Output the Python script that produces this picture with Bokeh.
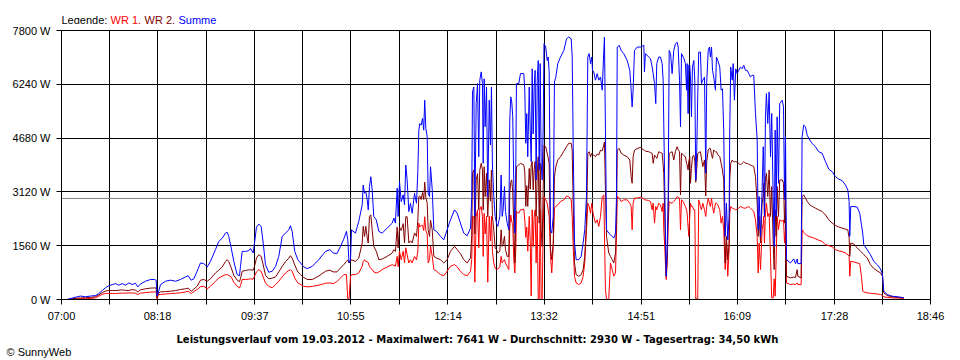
from bokeh.plotting import figure
from bokeh.layouts import column
from bokeh.models import Range1d, FixedTicker, CustomJSTickFormatter, Span
from bokeh.core.properties import value
from bokeh.embed import file_html
from bokeh.resources import INLINE

# time of each sample, minutes since midnight
time_min = [
    424.6, 426.7, 432.8, 435.4, 439.5, 443.6, 447.6, 450.3, 453.1, 455.7,
    458.4, 461.2, 463.9, 466.6, 469.3, 472.0, 474.7, 477.4, 480.1, 482.0,
    484.2, 488.2, 492.3, 495.6, 496.9, 497.6, 498.6, 500.4, 504.5, 508.6,
    512.6, 516.7, 520.7, 522.9, 525.4, 527.5, 530.2, 532.9, 535.6, 538.4,
    541.0, 545.1, 547.8, 550.6, 553.2, 554.6, 555.9, 557.9, 560.0, 562.7,
    564.6, 565.4, 566.8, 569.5, 572.2, 573.5, 575.7, 576.8, 578.4, 580.3,
    582.2, 583.9, 585.7, 588.4, 591.2, 593.9, 596.5, 599.3, 602.0, 604.7,
    606.0, 607.4, 609.5, 612.0, 614.2, 616.8, 619.6, 623.7, 629.0, 634.5,
    638.0, 640.7, 643.7, 646.7, 649.3, 651.5, 652.6, 653.6, 654.8, 655.6,
    658.8, 661.5, 664.3, 665.1, 666.2, 667.2, 668.4, 669.2, 670.2, 671.3,
    672.4, 673.7, 675.7, 677.8, 680.5, 684.6, 688.7, 690.0, 691.3, 692.7,
    693.5, 694.6, 696.0, 697.6, 698.7, 699.7, 700.8, 702.2, 703.5, 704.9,
    706.8, 708.4, 709.5, 710.3, 711.1, 712.2, 713.3, 714.3, 715.1, 716.0,
    717.1, 717.9, 719.0, 719.8, 721.2, 722.5, 724.7, 727.9, 730.6, 733.3,
    736.0, 739.3, 741.5, 744.1, 746.8, 749.6, 752.3, 753.3, 753.9, 755.0,
    755.8, 756.9, 758.0, 759.0, 759.8, 761.0, 762.0, 762.6, 763.4, 764.2,
    765.3, 766.3, 767.5, 768.5, 769.3, 770.1, 771.2, 772.3, 773.4, 774.4,
    776.1, 777.2, 778.0, 778.8, 779.9, 780.7, 782.1, 783.4, 784.2, 785.0,
    785.8, 786.6, 787.4, 788.3, 789.1, 789.6, 791.5, 792.9, 795.6, 796.4,
    797.2, 798.0, 798.8, 800.0, 800.8, 801.6, 802.4, 803.2, 804.0, 804.8,
    805.6, 806.5, 807.3, 808.1, 808.9, 809.7, 810.5, 811.3, 812.0, 813.4,
    814.6, 815.4, 816.2, 817.3, 818.3, 819.5, 820.5, 821.6, 823.2, 825.4,
    828.1, 830.3, 832.1, 834.1, 834.9, 835.7, 836.8, 838.1, 840.3, 842.2,
    843.8, 845.1, 846.5, 847.6, 848.7, 849.8, 850.8, 851.4, 852.4, 853.8,
    855.2, 856.5, 857.9, 859.3, 860.6, 861.1, 861.9, 862.8, 864.6, 866.0,
    867.4, 868.7, 870.1, 870.9, 871.5, 873.1, 874.7, 876.8, 879.6, 881.7,
    882.8, 883.6, 884.4, 885.5, 887.7, 890.4, 893.1, 893.6, 894.4, 897.1,
    898.5, 899.9, 900.7, 901.8, 902.8, 903.6, 905.2, 906.6, 908.0, 908.8,
    909.3, 910.1, 910.7, 911.3, 912.1, 912.9, 913.7, 914.8, 916.1, 917.4,
    918.8, 920.2, 921.0, 922.1, 922.9, 923.7, 925.1, 925.6, 926.9, 927.8,
    928.3, 929.1, 929.6, 930.4, 931.0, 931.8, 932.6, 933.7, 934.5, 935.3,
    936.1, 936.9, 937.7, 939.1, 939.9, 941.0, 942.4, 943.4, 944.2, 945.4,
    946.4, 947.2, 948.1, 948.9, 949.9, 951.3, 952.1, 953.2, 954.8, 955.9,
    957.0, 958.0, 959.2, 960.2, 961.3, 962.4, 962.9, 963.7, 964.9, 965.7,
    966.7, 967.8, 968.9, 970.2, 971.6, 973.0, 974.3, 975.7, 977.1, 978.4,
    979.7, 981.1, 982.4, 983.8, 985.2, 986.0, 986.8, 987.9, 989.2, 990.1,
    990.5, 991.1, 991.9, 992.7, 993.8, 994.9, 996.0, 997.0, 998.2, 999.0,
    999.8, 1000.6, 1001.4, 1002.5, 1003.5, 1005.5, 1006.6, 1007.4, 1008.2, 1009.0,
    1012.2, 1014.9, 1016.3, 1017.7, 1018.2, 1020.9, 1021.7, 1023.0, 1024.4, 1025.8,
    1027.9, 1029.9, 1032.5, 1035.2, 1038.0, 1040.7, 1043.4, 1046.1, 1048.8, 1051.5,
    1054.2, 1056.9, 1058.8, 1059.9, 1060.4, 1061.2, 1063.7, 1066.4, 1068.5, 1069.9,
    1071.0, 1071.8, 1074.6, 1077.2, 1079.9, 1082.7, 1085.4, 1087.0, 1088.0, 1090.8,
    1094.8, 1100.2, 1104.3,
]

# Summe (W)
summe = [
    0, 20, 80, 100, 80, 100, 115, 170, 260, 340,
    400, 430, 460, 415, 460, 415, 480, 435, 470, 365,
    450, 530, 580, 580, 560, 100, 190, 430, 530, 560,
    530, 580, 655, 690, 560, 600, 820, 1060, 1040, 945,
    1105, 1445, 1685, 1780, 1925, 1945, 1830, 1490, 1105, 720,
    690, 960, 1395, 1395, 1415, 1480, 1350, 1635, 2100, 2185,
    2120, 1635, 1010, 790, 820, 960, 1250, 1830, 1925, 2020,
    2140, 1975, 1395, 1155, 1060, 945, 895, 960, 1155, 1395,
    1445, 1350, 1330, 1540, 1750, 1975, 1730, 1060, 1150, 2020,
    1925, 2265, 2745, 3320, 3080, 3130, 2890, 2600, 3275, 3560,
    3180, 2410, 2310, 1975, 1925, 2070, 2215, 2360, 2215, 3225,
    2410, 3420, 2840, 3035, 2745, 3900, 3470, 2550, 2790, 2500,
    3080, 2790, 3710, 4910, 5100, 5055, 5250, 4910, 5780, 4960,
    4720, 3080, 2985, 3850, 3180, 2020, 1975, 1830, 1730, 2020,
    2310, 2600, 2500, 2215, 1925, 1850, 2070, 2985, 6020, 6160,
    2410, 5680, 6260, 4140, 6355, 6600, 6260, 3950, 6400, 5010,
    6160, 2985, 5780, 4480, 6160, 3900, 2985, 2410, 2215, 2120,
    2410, 3610, 2410, 2600, 3275, 2550, 2215, 2020, 5200, 5875,
    5730, 5300, 3470, 1925, 3950, 6260, 6260, 6550, 6550, 6070,
    4530, 5390, 4140, 6160, 4910, 4000, 6690, 4800, 6160, 6645,
    3470, 6360, 6930, 3760, 6840, 3950, 3470, 4910, 7415, 7320,
    6930, 7030, 6600, 2020, 1925, 2410, 6310, 6450, 6840, 7030,
    7220, 7560, 7610, 7560, 7030, 4530, 1640, 1155, 1155, 1250,
    1640, 2020, 2985, 7030, 7130, 6840, 7030, 6645, 6600, 6360,
    6550, 6360, 6450, 6070, 7220, 7610, 4910, 2020, 1925, 1880,
    1830, 1780, 1925, 2985, 7320, 7370, 7220, 7130, 6930, 6645,
    6070, 5585, 6070, 7220, 7320, 7320, 7370, 6600, 7130, 7030,
    6980, 6740, 6550, 6260, 5680, 6840, 7030, 7030, 6840, 6360,
    5100, 3270, 1830, 674, 1540, 2985, 7220, 7130, 6550, 7220,
    7415, 7460, 7320, 6360, 5010, 7130, 7030, 7000, 6840, 6070,
    6840, 5390, 6800, 6800, 6450, 5300, 6740, 6930, 6360, 3470,
    4330, 5875, 7175, 7175, 6260, 6360, 6450, 3660, 6310, 7220,
    7320, 7030, 7320, 6645, 6450, 6070, 7030, 6930, 6740, 6070,
    6110, 4910, 1830, 2790, 1730, 2410, 4910, 6740, 6360, 6840,
    5780, 6690, 6550, 6645, 6740, 6693, 6789, 6645, 6645, 6550,
    6452, 6500, 6500, 5393, 4622, 2022, 2985, 1830, 3178, 4430,
    4000, 2408, 5297, 5970, 5104, 6019, 4141, 5393, 2985, 1541,
    4911, 2408, 5297, 3370, 5682, 5778, 5585, 2900, 4719, 1156,
    1059, 1175, 1040, 1175, 1040, 1040, 4719, 5056, 5008, 4767,
    4622, 4526, 4430, 4285, 4237, 3996, 3775, 3708, 3563, 3486,
    3448, 3322, 3178, 2841, 1830, 2696, 2696, 2680, 2504, 2167,
    1900, 1589, 1445, 1300, 1107, 1011, 886, 722, 241, 144,
    96, 77, 48,
]

# WR 2 (W)
wr2 = [
    0, 10, 40, 45, 50, 60, 80, 135, 200, 245,
    260, 260, 260, 270, 280, 265, 260, 290, 270, 220,
    280, 310, 330, 335, 335, 50, 170, 220, 230, 240,
    260, 290, 310, 330, 240, 300, 385, 560, 580, 530,
    600, 770, 850, 945, 1100, 1155, 1100, 915, 700, 560,
    520, 600, 820, 840, 860, 860, 850, 960, 1200, 1300,
    1250, 1000, 700, 600, 620, 655, 800, 960, 1100, 1200,
    1270, 1200, 1000, 800, 720, 640, 580, 578, 680, 820,
    850, 800, 800, 915, 1010, 1105, 1150, 1060, 1100, 1150,
    1105, 1200, 1640, 2120, 1830, 2120, 1780, 1640, 2410, 2455,
    2020, 1540, 1400, 1155, 1175, 1250, 1350, 1445, 1395, 2100,
    1500, 2100, 2000, 2200, 1640, 2400, 2400, 1640, 1700, 1640,
    1930, 1830, 2300, 2985, 3000, 2900, 3100, 2900, 3400, 2950,
    2800, 2020, 1830, 2300, 2020, 1250, 1200, 1155, 1060, 1155,
    1395, 1540, 1445, 1330, 1155, 1060, 1205, 1850, 3660, 3755,
    1900, 3470, 3650, 2600, 3750, 3950, 3755, 2600, 3850, 2985,
    3660, 2400, 3470, 2850, 3755, 2410, 2020, 1500, 1445, 1350,
    1400, 2020, 1540, 1600, 1830, 1445, 1250, 1250, 3100, 3400,
    3470, 3100, 2200, 1060, 2410, 3850, 3900, 3950, 3900, 3700,
    2700, 3300, 2700, 3800, 3200, 3900, 4000, 3180, 3756, 4000,
    2410, 3660, 4140, 2215, 3950, 2020, 1540, 3180, 4480, 4430,
    4240, 4100, 3950, 1445, 1155, 1640, 3560, 3850, 4045, 4140,
    4300, 4430, 4530, 4530, 4330, 2790, 1060, 720, 675, 720,
    870, 1250, 2215, 4240, 4285, 4140, 4240, 4200, 4190, 4140,
    4220, 4190, 4330, 4310, 4480, 4570, 3180, 1830, 1350, 1250,
    1155, 1060, 1350, 2400, 4330, 4380, 4240, 4190, 4140, 4045,
    3560, 3370, 4140, 4330, 4380, 4410, 4334, 4330, 4300, 4285,
    4260, 4237, 3948, 4189, 4140, 4093, 4285, 4260, 4237, 3900,
    3659, 2408, 1400, 674, 1252, 2500, 4237, 4260, 4285, 4045,
    4300, 4430, 4350, 4285, 3033, 4237, 4200, 4170, 4141, 3950,
    3900, 3756, 4000, 4141, 3370, 3800, 4141, 4189, 4000, 3400,
    3800, 4237, 4260, 4285, 4100, 3852, 4045, 3000, 4000, 4334,
    4382, 4382, 4200, 4093, 4334, 4285, 4285, 4200, 4141, 3948,
    3750, 3467, 1059, 1830, 1156, 1637, 3467, 3948, 4045, 4000,
    3996, 3996, 3990, 3950, 3900, 3950, 3996, 3950, 3948, 3920,
    3900, 3880, 3852, 3563, 2793, 1830, 2408, 1637, 2793, 3000,
    3370, 2408, 3500, 3659, 2985, 3756, 2408, 3274, 1637, 867,
    2600, 1830, 3274, 2408, 3467, 3467, 3370, 2215, 2985, 674,
    626, 650, 640, 867, 674, 626, 2985, 3034, 2937, 2850,
    2745, 2700, 2648, 2600, 2550, 2450, 2311, 2215, 2150, 2100,
    2070, 2040, 2022, 1782, 1252, 1637, 1610, 1500, 1420, 1380,
    1330, 1300, 1204, 1011, 900, 830, 770, 674, 193, 116,
    77, 60, 48,
]

# WR 1 (W)
wr1 = [
    0, 10, 20, 25, 20, 30, 50, 95, 150, 175,
    175, 175, 175, 180, 185, 185, 190, 190, 180, 145,
    185, 200, 215, 220, 220, 0, 140, 145, 160, 170,
    180, 195, 220, 240, 175, 230, 290, 370, 385, 310,
    380, 530, 620, 680, 720, 720, 700, 655, 500, 385,
    335, 400, 580, 580, 590, 600, 590, 675, 800, 865,
    820, 650, 480, 380, 340, 430, 530, 655, 770, 840,
    865, 820, 620, 480, 435, 385, 365, 380, 415, 470,
    480, 460, 520, 625, 720, 720, 0, 0, 670, 720,
    720, 770, 965, 1100, 1155, 1100, 1100, 1060, 960, 900,
    870, 800, 770, 800, 867, 945, 1010, 990, 965, 1250,
    950, 1400, 1150, 1400, 1060, 1500, 1300, 1060, 1150, 1060,
    1250, 1150, 1400, 2215, 2100, 2150, 2150, 2000, 2400, 2000,
    1900, 1060, 1155, 1550, 1250, 870, 820, 720, 690, 820,
    965, 1010, 945, 820, 720, 690, 820, 1155, 2410, 2400,
    500, 2410, 2600, 1500, 2600, 2700, 2410, 1250, 2500, 1900,
    2410, 500, 2410, 1700, 2410, 1400, 1060, 910, 870, 880,
    950, 1250, 1060, 1100, 1155, 1060, 965, 870, 2100, 2450,
    2250, 2200, 1200, 770, 1500, 2550, 2500, 2600, 2620, 2300,
    1800, 2100, 1400, 2410, 1700, 100, 2600, 1540, 2408, 2600,
    1060, 2410, 20, 0, 2600, 20, 20, 2020, 2985, 2890,
    2790, 2600, 2410, 1250, 770, 1540, 2650, 2700, 2745, 2840,
    2890, 3000, 2985, 2890, 2410, 1540, 670, 480, 435, 480,
    675, 1060, 2020, 2790, 2700, 2500, 2790, 2600, 2410, 2215,
    2310, 2120, 2410, 2985, 3030, 1930, 290, 0, 20, 1060,
    870, 675, 770, 1900, 2985, 2940, 2840, 2890, 2890, 2790,
    2700, 2020, 2790, 2940, 2940, 2966, 2920, 2889, 2889, 2870,
    2841, 2600, 2793, 2215, 2696, 2600, 2793, 2745, 2552, 2793,
    2022, 1541, 1000, 578, 1059, 2215, 2841, 2800, 2793, 2841,
    2900, 2985, 2960, 2937, 2022, 2889, 2840, 2793, 2700, 2600,
    2500, 2100, 1830, 2408, 2793, 2700, 2700, 2600, 2600, 20,
    20, 20, 2889, 2700, 2600, 2793, 2600, 2408, 2700, 2937,
    2800, 2696, 2937, 2700, 2504, 2793, 2793, 2745, 2600, 2215,
    2408, 2022, 867, 1637, 674, 1444, 2500, 2696, 2648, 2640,
    2620, 2600, 2620, 2650, 2696, 2670, 2650, 2648, 2670, 2696,
    2650, 2600, 2550, 2311, 1830, 770, 1637, 867, 2022, 2200,
    2408, 1637, 2500, 2793, 2408, 2500, 1252, 48, 48, 600,
    96, 1200, 2408, 2022, 2311, 2263, 2311, 1637, 2022, 482,
    433, 450, 430, 482, 433, 433, 2022, 1945, 1900, 1849,
    1820, 1800, 1760, 1720, 1685, 1589, 1560, 1530, 1445, 1410,
    1390, 1348, 1300, 1252, 674, 1107, 1090, 1060, 1040, 674,
    241, 220, 193, 180, 173, 160, 144, 120, 77, 60,
    48, 40, 29,
]

x_tick_labels = ["07:00", "08:18", "09:37", "10:55", "12:14",
                 "13:32", "14:51", "16:09", "17:28", "18:46"]
y_ticks = [0, 1560, 3120, 4680, 6240, 7800]
y_tick_labels = ["0 W", "1560 W", "3120 W", "4680 W", "6240 W", "7800 W"]
durchschnitt = 2930
legend_parts = ["Legende:", "WR 1,", "WR 2,", "Summe"]
title_text = ("Leistungsverlauf vom 19.03.2012 - Maximalwert: 7641 W - "
              "Durchschnitt: 2930 W - Tagesertrag: 34,50 kWh")
copyright_text = "\u00a9 SunnyWeb"

C_WR1 = "#FF0000"
C_WR2 = "#800000"
C_SUM = "#0000FF"
FONT = "Liberation Sans"
TITLE_FONT = "DejaVu Sans"
W = 960


def to_min(s):
    h, m = s.split(":")
    return int(h) * 60 + int(m)


def no_frame_align(fig):
    # keep each figure's own borders inside the column
    try:
        fig.frame_align = False
    except Exception:
        pass


x_ticks = [to_min(s) for s in x_tick_labels]
x_minor = [(a + b) / 2 for a, b in zip(x_ticks[:-1], x_ticks[1:])]


def text_strip(h):
    f = figure(width=W, height=h, output_backend="svg", toolbar_location=None,
               x_range=Range1d(0, W), y_range=Range1d(h, 0), min_border=0,
               min_border_left=0, min_border_right=0, min_border_top=0,
               min_border_bottom=0, x_axis_type=None, y_axis_type=None)
    f.outline_line_color = None
    f.background_fill_color = "white"
    f.border_fill_color = "white"
    no_frame_align(f)
    return f


# ---- legend strip (top) ----
TOP_H = 24
top = text_strip(TOP_H)
legend_x = [61, 110, 144, 178]
legend_colors = ["black", C_WR1, C_WR2, C_SUM]
for txt, lx, col in zip(legend_parts, legend_x, legend_colors):
    top.text(x=[lx], y=[19], text=[txt], text_font=value(FONT),
             text_font_size=value("11px"), text_color=col,
             text_baseline="alphabetic", text_align="left")

# ---- main chart ----
p = figure(width=W, height=300, output_backend="svg", toolbar_location=None,
           x_range=Range1d(x_ticks[0], x_ticks[-1]), y_range=Range1d(0, 7800),
           min_border_left=61, min_border_right=30, min_border_top=30 - TOP_H,
           min_border_bottom=24)
no_frame_align(p)
p.background_fill_color = "white"
p.border_fill_color = "white"
p.outline_line_color = "black"

p.xaxis.ticker = FixedTicker(ticks=x_ticks, minor_ticks=x_minor)
p.yaxis.ticker = FixedTicker(ticks=y_ticks)
p.xaxis.formatter = CustomJSTickFormatter(
    args=dict(pos=x_ticks, lab=x_tick_labels),
    code="const i = pos.indexOf(tick); return i >= 0 ? lab[i] : '';")
p.yaxis.formatter = CustomJSTickFormatter(
    args=dict(pos=y_ticks, lab=y_tick_labels),
    code="const i = pos.indexOf(tick); return i >= 0 ? lab[i] : '';")

for ax in (p.xaxis, p.yaxis):
    ax.axis_line_color = "black"
    ax.major_tick_line_color = "black"
    ax.major_tick_in = 0
    ax.major_tick_out = 5
    ax.minor_tick_in = 0
    ax.minor_tick_out = 5
    ax.major_label_text_font = FONT
    ax.major_label_text_font_size = "11px"
    ax.major_label_text_color = "black"
p.xaxis.major_label_standoff = 5
p.yaxis.major_label_standoff = 6
p.xaxis.minor_tick_line_color = "black"
p.yaxis.minor_tick_line_color = None

p.xgrid.grid_line_color = "black"
p.xgrid.grid_line_alpha = 1
p.xgrid.minor_grid_line_color = "black"
p.ygrid.grid_line_color = "black"
p.ygrid.grid_line_alpha = 1

p.add_layout(Span(location=durchschnitt, dimension="width", line_color="#808080",
                  line_width=1, level="underlay"))

p.line(time_min, wr1, line_color=C_WR1, line_width=1)
p.line(time_min, wr2, line_color=C_WR2, line_width=1)
p.line(time_min, summe, line_color=C_SUM, line_width=1)

# ---- caption strip (bottom) ----
BOT_H = 36
bottom = text_strip(BOT_H)
bottom.text(x=[176], y=[15], text=[title_text], text_font=value(TITLE_FONT),
            text_font_size=value("10px"), text_font_style="bold",
            text_color="black", text_baseline="alphabetic", text_align="left")
bottom.text(x=[6], y=[27], text=[copyright_text], text_font=value(FONT),
            text_font_size=value("11px"), text_color="black",
            text_baseline="alphabetic", text_align="left")

layout = column(top, p, bottom, spacing=0)
open("out.html", "w").write(file_html(layout, INLINE))
